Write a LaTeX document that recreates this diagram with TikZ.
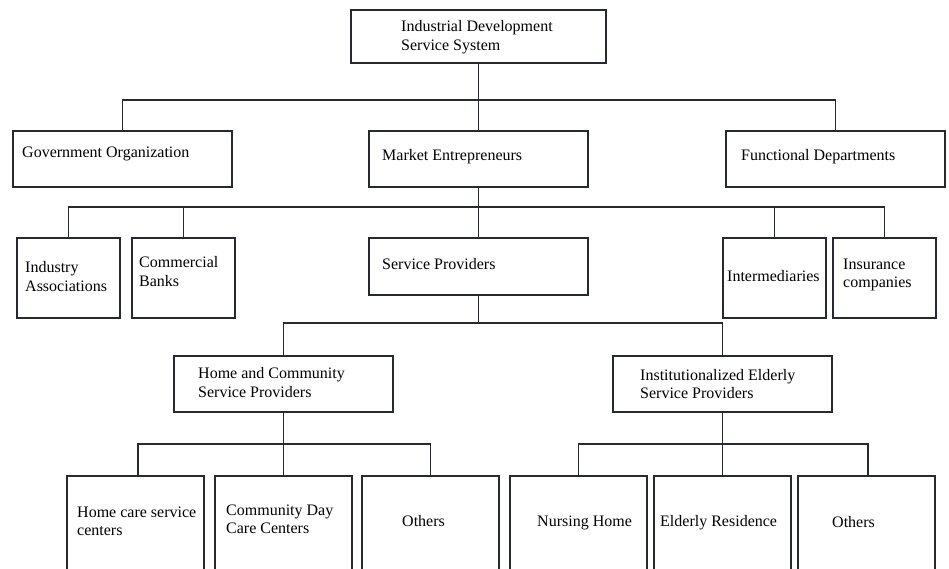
\documentclass[tikz,border=0pt]{standalone}
\usepackage{fontspec}
\setmainfont{Liberation Serif}
\definecolor{ink}{HTML}{262A2E}
\begin{document}
\begin{tikzpicture}[x=1pt,y=-1pt,
  box/.style={draw=ink, line width=1.8pt, inner sep=0pt, outer sep=0pt, fill=white},
  lbl/.style={anchor=west, inner sep=0pt, align=left, text=black,
              font=\fontsize{16}{18.4}\selectfont},
  conn/.style={draw=ink, line width=1.3pt}]
\useasboundingbox (0,0) rectangle (949,569);
\clip (0,0) rectangle (949,569);

% boxes, given by their corners
\newcommand{\orgbox}[5]{%
  \node[box, minimum width={#4-#2}, minimum height={#5-#3}] (#1) at ({(#2+#4)/2},{(#3+#5)/2}) {};}

\orgbox{top}{351}{10}{606}{63}
\orgbox{gov}{13}{131}{232}{187}
\orgbox{mkt}{369}{131}{588}{187}
\orgbox{fun}{726}{131}{945}{187}
\orgbox{ia}{17}{238}{120}{318}
\orgbox{cb}{132}{238}{235}{318}
\orgbox{sp}{369}{238}{588}{295}
\orgbox{im}{723}{238}{826}{318}
\orgbox{ic}{833}{238}{936}{318}
\orgbox{hc}{174}{356}{393}{412}
\orgbox{ie}{613}{356}{832}{412}
\orgbox{hcs}{67}{476}{204}{600}
\orgbox{cdc}{215}{476}{352}{600}
\orgbox{oth1}{362}{476}{499}{600}
\orgbox{nh}{510}{476}{647}{600}
\orgbox{er}{654}{476}{791}{600}
\orgbox{oth2}{798}{476}{935}{600}

% labels
\node[lbl] (ttop) at (401,37) {Industrial Development\\Service System};
\node[lbl] (tgov) at (22,153.5) {Government Organization};
\node[lbl] (tmkt) at (382,156.5) {Market Entrepreneurs};
\node[lbl] (tfun) at (741,156.5) {Functional Departments};
\node[lbl] (tia) at (25,276.5) {Industry\\Associations};
\node[lbl] (tcb) at (139,271.5) {Commercial\\Banks};
\node[lbl] (tsp) at (382,264.5) {Service Providers};
\node[lbl] (tim) at (727,276) {Intermediaries};
\node[lbl] (tic) at (843,275) {Insurance\\companies};
\node[lbl] (thc) at (198,382.5) {Home and Community\\Service Providers};
\node[lbl] (tie) at (640,384) {Institutionalized Elderly\\Service Providers};
\node[lbl] (thcs) at (77,521.5) {Home care service\\centers};
\node[lbl] (tcdc) at (226,519.5) {Community Day\\Care Centers};
\node[lbl] (toth1) at (402,521) {Others};
\node[lbl] (tnh) at (537,523) {Nursing Home};
\node[lbl] (ter) at (660,523) {Elderly Residence};
\node[lbl] (toth2) at (832,522) {Others};

% connectors
\draw[conn] (top.south) -- (mkt.north);
\draw[conn] (gov.north) -- ++(0,-31) -| (fun.north);

\draw[conn] (mkt.south) -- (sp.north);
\draw[conn] (ia.north) -- ++(0,-31) -| (ic.north);
\draw[conn] (cb.north) -- ++(0,-31);
\draw[conn] (im.north) -- ++(0,-31);

\draw[conn] (sp.south) -- ++(0,28.5);
\draw[conn] (hc.north) -- ++(0,-33) -| (ie.north);

\draw[conn] (hc.south) -- (cdc.north);
\draw[conn] ([xshift=2.5pt]hcs.north) -- ++(0,-32) -| (oth1.north);
\draw[conn] (ie.south) -- (er.north);
\draw[conn] (nh.north) -- ++(0,-32) -| ([xshift=1.5pt]oth2.north);
\end{tikzpicture}
\end{document}
